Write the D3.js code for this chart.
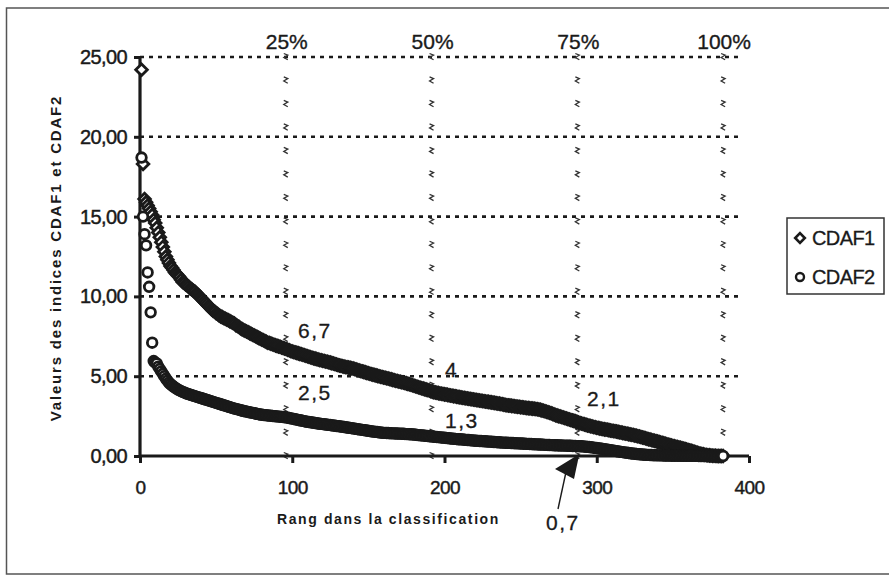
<!DOCTYPE html>
<html><head><meta charset="utf-8">
<script src="https://cdnjs.cloudflare.com/ajax/libs/d3/7.8.5/d3.min.js"></script>
<style>
html,body{margin:0;padding:0;background:#fff;}
svg{display:block;font-family:"Liberation Sans",Arial,sans-serif;}
</style></head>
<body><svg id="c" width="889" height="575"></svg>
<script>
// ---------- DATA ----------
const seriesNames = ["CDAF1", "CDAF2"];
const CDAF1 = [
24.20,18.30,16.10,15.90,15.70,15.50,15.30,15.10,14.80,14.60,14.30,14.00,13.70,13.40,13.10,12.80,12.50,12.30,12.10,11.90,
11.80,11.65,11.50,11.40,11.30,11.20,11.05,10.90,10.85,10.75,10.70,10.60,10.50,10.45,10.35,10.30,10.20,10.10,10.00,9.90,
9.80,9.70,9.60,9.50,9.40,9.30,9.20,9.10,9.05,8.95,8.90,8.80,8.75,8.70,8.65,8.60,8.55,8.50,8.45,8.40,
8.35,8.30,8.20,8.15,8.10,8.00,7.95,7.90,7.85,7.80,7.75,7.70,7.65,7.60,7.55,7.50,7.45,7.40,7.35,7.30,
7.25,7.20,7.15,7.10,7.08,7.04,7.00,6.97,6.93,6.90,6.87,6.84,6.80,6.77,6.74,6.70,6.66,6.62,6.58,6.55,
6.52,6.49,6.46,6.43,6.40,6.37,6.34,6.31,6.28,6.25,6.22,6.19,6.16,6.13,6.10,6.08,6.05,6.02,6.00,5.97,
5.95,5.92,5.90,5.87,5.85,5.82,5.79,5.76,5.73,5.70,5.67,5.65,5.62,5.60,5.58,5.56,5.54,5.52,5.50,5.48,
5.45,5.42,5.39,5.36,5.33,5.30,5.27,5.24,5.21,5.18,5.15,5.12,5.10,5.07,5.05,5.02,5.00,4.97,4.95,4.92,
4.90,4.87,4.85,4.82,4.80,4.77,4.75,4.72,4.70,4.67,4.65,4.62,4.60,4.57,4.55,4.52,4.49,4.46,4.43,4.40,
4.37,4.34,4.31,4.28,4.25,4.22,4.19,4.16,4.13,4.10,4.06,4.02,4.00,3.98,3.96,3.94,3.92,3.90,3.88,3.86,
3.85,3.83,3.81,3.79,3.77,3.75,3.74,3.72,3.70,3.69,3.67,3.65,3.64,3.62,3.60,3.59,3.57,3.55,3.54,3.52,
3.51,3.49,3.48,3.46,3.45,3.43,3.42,3.40,3.39,3.37,3.36,3.34,3.33,3.31,3.29,3.28,3.26,3.24,3.22,3.20,
3.18,3.17,3.16,3.14,3.13,3.12,3.10,3.09,3.08,3.06,3.05,3.04,3.02,3.01,3.00,2.99,2.98,2.97,2.96,2.95,
2.93,2.91,2.89,2.86,2.83,2.80,2.77,2.74,2.71,2.68,2.64,2.60,2.56,2.53,2.50,2.47,2.44,2.41,2.38,2.35,
2.32,2.29,2.26,2.23,2.20,2.17,2.14,2.10,2.07,2.04,2.01,1.98,1.95,1.92,1.90,1.87,1.85,1.82,1.80,1.77,
1.75,1.73,1.71,1.69,1.67,1.66,1.64,1.62,1.60,1.58,1.57,1.55,1.53,1.51,1.49,1.47,1.45,1.43,1.41,1.39,
1.37,1.35,1.33,1.31,1.29,1.27,1.24,1.22,1.19,1.16,1.14,1.11,1.08,1.05,1.03,1.00,0.97,0.95,0.92,0.90,
0.87,0.84,0.82,0.79,0.76,0.73,0.71,0.68,0.66,0.63,0.61,0.58,0.56,0.53,0.51,0.48,0.46,0.43,0.41,0.38,
0.35,0.32,0.29,0.26,0.23,0.20,0.17,0.14,0.12,0.10,0.08,0.06,0.05,0.04,0.03,0.02,0.01,0.01,0.00,0.00,0.00,0.00,0.00
];
const CDAF2 = [
18.70,15.00,13.90,13.20,11.50,10.60,9.00,7.10,5.95,5.85,5.80,5.60,5.45,5.30,5.15,5.00,4.85,4.72,4.60,4.50,
4.42,4.35,4.28,4.22,4.16,4.11,4.06,4.02,3.98,3.94,3.90,3.87,3.84,3.81,3.78,3.75,3.72,3.69,3.66,3.63,
3.60,3.57,3.54,3.51,3.48,3.45,3.42,3.39,3.36,3.33,3.30,3.27,3.24,3.21,3.18,3.15,3.12,3.09,3.06,3.03,
3.00,2.97,2.95,2.92,2.90,2.87,2.85,2.82,2.80,2.78,2.76,2.74,2.72,2.70,2.68,2.66,2.64,2.62,2.60,2.58,
2.57,2.56,2.55,2.54,2.53,2.52,2.51,2.50,2.49,2.48,2.47,2.46,2.45,2.44,2.43,2.42,2.40,2.38,2.36,2.34,
2.32,2.30,2.28,2.26,2.24,2.22,2.20,2.18,2.16,2.14,2.13,2.11,2.10,2.08,2.07,2.05,2.04,2.02,2.01,2.00,
1.99,1.97,1.96,1.95,1.94,1.92,1.91,1.90,1.88,1.87,1.86,1.84,1.83,1.82,1.80,1.79,1.77,1.76,1.74,1.73,
1.71,1.70,1.68,1.67,1.65,1.64,1.62,1.61,1.59,1.58,1.56,1.55,1.53,1.52,1.51,1.50,1.48,1.47,1.46,1.45,
1.45,1.44,1.44,1.43,1.43,1.42,1.42,1.41,1.41,1.40,1.40,1.39,1.39,1.38,1.37,1.37,1.36,1.36,1.35,1.35,
1.33,1.32,1.31,1.30,1.29,1.28,1.27,1.26,1.25,1.24,1.23,1.22,1.21,1.20,1.19,1.18,1.17,1.16,1.15,1.14,
1.13,1.12,1.11,1.10,1.09,1.08,1.07,1.06,1.05,1.05,1.04,1.03,1.02,1.01,1.00,1.00,0.99,0.98,0.97,0.96,
0.96,0.95,0.94,0.94,0.93,0.92,0.92,0.91,0.90,0.90,0.89,0.88,0.88,0.87,0.86,0.86,0.85,0.84,0.84,0.83,
0.83,0.82,0.82,0.81,0.81,0.80,0.80,0.79,0.79,0.78,0.78,0.77,0.77,0.76,0.76,0.75,0.75,0.74,0.74,0.73,
0.73,0.72,0.72,0.71,0.71,0.70,0.70,0.69,0.69,0.68,0.68,0.67,0.67,0.67,0.66,0.66,0.66,0.65,0.65,0.65,
0.64,0.64,0.64,0.63,0.63,0.63,0.62,0.62,0.61,0.61,0.60,0.59,0.58,0.57,0.56,0.55,0.54,0.52,0.51,0.50,
0.48,0.47,0.45,0.44,0.42,0.41,0.39,0.38,0.36,0.35,0.33,0.32,0.30,0.29,0.27,0.26,0.24,0.23,0.21,0.20,
0.19,0.17,0.16,0.15,0.14,0.13,0.12,0.11,0.10,0.09,0.08,0.08,0.07,0.07,0.06,0.06,0.05,0.05,0.05,0.04,
0.04,0.04,0.04,0.03,0.03,0.03,0.03,0.03,0.02,0.02,0.02,0.02,0.02,0.02,0.02,0.01,0.01,0.01,0.01,0.01,
0.01,0.01,0.01,0.01,0.01,0.01,0.00,0.00,0.00,0.00,0.00,0.00,0.00,0.00,0.00,0.00,0.00,0.00,0.00,0.00,0.00,0.00,0.00
];
const xTicks = [0, 100, 200, 300, 400];
const yTicks = [0, 5, 10, 15, 20, 25];
const gridValues = [5, 10, 15, 20, 25];
const percentLabels = ["25%", "50%", "75%", "100%"];
const percentShares = [0.25, 0.5, 0.75, 1.0];
const annotTexts = ["6,7", "4", "2,1", "2,5", "1,3", "0,7"];
const xTitle = "Rang dans la classification";
const yTitle = "Valeurs des indices CDAF1 et CDAF2";

// ---------- LAYOUT ----------
const svg = d3.select("#c");
const N = CDAF1.length;
const x = d3.scaleLinear().domain([0, 400]).range([140, 749]);
const y = d3.scaleLinear().domain([0, 25]).range([456, 57]);
const ink = "#1a1a1a";

svg.append("rect").attr("width", 889).attr("height", 575).attr("fill", "#fff");
// outer frame (right and bottom edges fall outside the picture)
svg.append("rect").attr("x", 6.5).attr("y", 8).attr("width", 884).attr("height", 566)
  .attr("fill", "none").attr("stroke", "#555").attr("stroke-width", 1.5);

// horizontal gridlines
svg.append("g").selectAll("line").data(gridValues).join("line")
  .attr("x1", x(0)).attr("x2", x(395)).attr("y1", d => y(d)).attr("y2", d => y(d))
  .attr("stroke", ink).attr("stroke-width", 2.6).attr("stroke-dasharray", "4,5");

// percentile columns made of tiny glyphs
const glyphSteps = d3.range(0, 18).map(i => i * 25 / 17);
const pg = svg.append("g");
percentShares.forEach(p => {
  const cx = x(N * p);
  pg.selectAll(null).data(glyphSteps).join("path")
    .attr("transform", d => `translate(${cx},${y(d)})`)
    .attr("d", "M-2,-3.5 L2,-1.8 L-2,0.5 L2,2.8")
    .attr("fill", "none").attr("stroke", "#333").attr("stroke-width", 1.3);
});

// percent labels
svg.append("g").selectAll("text").data(percentLabels).join("text")
  .attr("x", (d, i) => x(N * percentShares[i]) + 1).attr("y", 49)
  .attr("text-anchor", "middle").attr("font-size", 21).attr("fill", ink)
  .attr("stroke", ink).attr("stroke-width", 0.35).text(d => d);

// axes
const fmt = d => d3.format(".2f")(d).replace(".", ",");
const gy = svg.append("g").attr("transform", `translate(${x(0)},0)`)
  .call(d3.axisLeft(y).tickValues(yTicks).tickFormat(fmt).tickSize(6).tickPadding(7));
const gx = svg.append("g").attr("transform", `translate(0,${y(0)})`)
  .call(d3.axisBottom(x).tickValues(xTicks).tickFormat(d3.format("d")).tickSize(7).tickPadding(18));
[gy, gx].forEach(g => {
  g.select(".domain").attr("stroke", ink).attr("stroke-width", 3.2);
  g.selectAll(".tick line").attr("stroke", ink).attr("stroke-width", 3);
  g.selectAll("text").attr("fill", ink).attr("stroke", ink).attr("stroke-width", 0.45)
    .attr("font-family", "Liberation Sans, Arial, sans-serif");
});
gy.select(".domain").attr("d", `M0,${y(25)}V${y(0)}`);
gx.select(".domain").attr("d", `M${x(0)},0H${x(400)}`);
gy.selectAll("text").attr("font-size", 20).attr("letter-spacing", -0.6);
gx.selectAll("text").attr("font-size", 19).attr("letter-spacing", -0.6);

// markers
const diamond = "M0,-5.8 L5.8,0 L0,5.8 L-5.8,0 Z";
svg.append("g").selectAll("path").data(CDAF1).join("path")
  .attr("transform", (d, i) => `translate(${x(i + 1)},${y(d)})`)
  .attr("d", diamond).attr("fill", "#fff").attr("stroke", ink).attr("stroke-width", 2.8);
svg.append("g").selectAll("circle").data(CDAF2).join("circle")
  .attr("cx", (d, i) => x(i + 1)).attr("cy", d => y(d)).attr("r", 4.8)
  .attr("fill", "#fff").attr("stroke", ink).attr("stroke-width", 2.8);

// axis titles
svg.append("text").attr("x", 277).attr("y", 524).attr("font-size", 14).attr("font-weight", "bold")
  .attr("letter-spacing", 1.6).attr("fill", ink).text(xTitle);
svg.append("text").attr("transform", "translate(61,258) rotate(-90)").attr("text-anchor", "middle")
  .attr("font-size", 15).attr("font-weight", "bold").attr("letter-spacing", 1.8)
  .attr("fill", ink).text(yTitle);

// annotations
const annotPos = [[298, 338], [445, 377], [587, 406], [298, 400], [445, 428], [546, 530]];
svg.append("g").selectAll("text").data(annotTexts).join("text")
  .attr("x", (d, i) => annotPos[i][0]).attr("y", (d, i) => annotPos[i][1])
  .attr("font-size", 21).attr("letter-spacing", 1.5).attr("fill", ink)
  .attr("stroke", ink).attr("stroke-width", 0.3).text(d => d);

// arrow to the 75% point of CDAF2
const tipX = x(N * 0.75) + 2, tipY = y(0) - 2;
svg.append("line").attr("x1", 558).attr("y1", 509).attr("x2", 566).attr("y2", 472)
  .attr("stroke", ink).attr("stroke-width", 1.4);
svg.append("path").attr("d", `M${tipX},${tipY} L555,469 L574,479 Z`).attr("fill", ink);

// legend
const lg = svg.append("g");
lg.append("rect").attr("x", 787).attr("y", 218).attr("width", 97).attr("height", 76)
  .attr("fill", "#fff").attr("stroke", "#333").attr("stroke-width", 1.5);
lg.append("path").attr("transform", "translate(800,238)").attr("d", "M0,-4.8 L4.8,0 L0,4.8 L-4.8,0 Z")
  .attr("fill", "#fff").attr("stroke", ink).attr("stroke-width", 2.6);
lg.append("circle").attr("cx", 800).attr("cy", 277).attr("r", 4)
  .attr("fill", "#fff").attr("stroke", ink).attr("stroke-width", 2.4);
lg.selectAll("text").data(seriesNames).join("text")
  .attr("x", 812).attr("y", (d, i) => i === 0 ? 245 : 284)
  .attr("font-size", 20).attr("letter-spacing", -0.6).attr("fill", ink)
  .attr("stroke", ink).attr("stroke-width", 0.3).text(d => d);
</script></body></html>
